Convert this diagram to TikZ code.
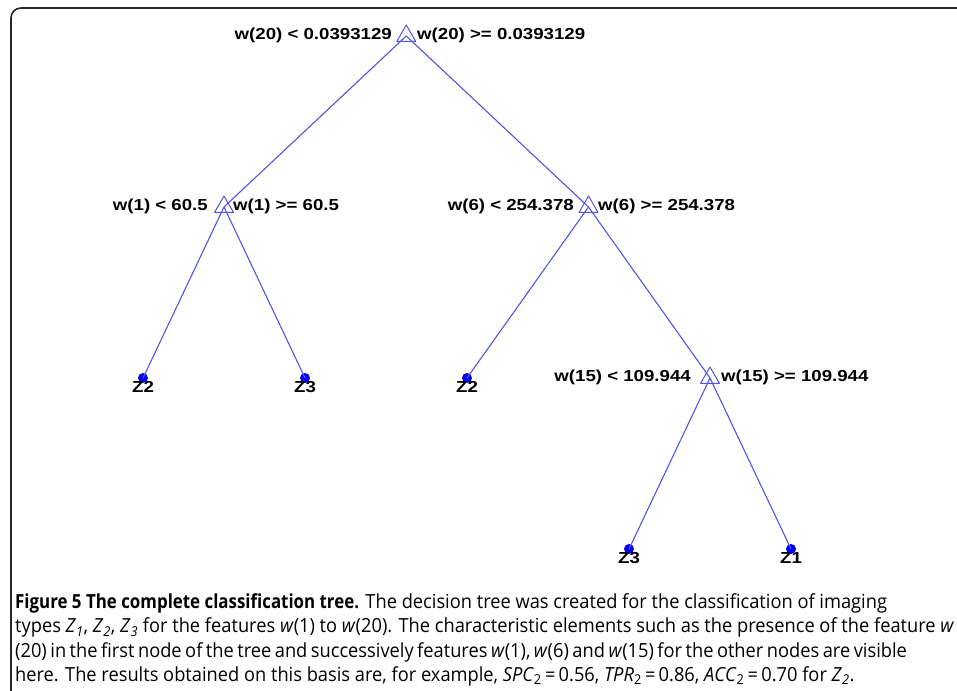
\documentclass[tikz,border=0pt]{standalone}
\usepackage{fontspec}
\setmainfont{Open Sans}[FakeStretch=0.94]
\newfontfamily\capbold{Open Sans}[FakeStretch=0.87]
\newfontfamily\treefont{Liberation Sans}[FakeStretch=1.17]
\usepackage{tikz}
\usetikzlibrary{shapes.geometric}
\definecolor{treeblue}{RGB}{84,84,228}
\definecolor{leafblue}{RGB}{0,0,250}
\definecolor{framegray}{RGB}{40,40,40}
\tikzset{
  split/.style={regular polygon,regular polygon sides=3,draw=treeblue,line width=1bp,minimum size=22bp,inner sep=0pt},
  leaf/.style={circle,fill=leafblue,minimum size=10bp,inner sep=0pt},
  treeline/.style={treeblue,line width=1.1bp},
  rule/.style={font=\treefont\bfseries\fontsize{16}{18}\selectfont,inner sep=0pt},
  leaflab/.style={font=\treefont\bfseries\fontsize{16}{18}\selectfont,inner sep=0pt,anchor=north},
  capline/.style={font=\fontsize{19.5}{24}\selectfont,inner sep=0pt,anchor=base west},
}
\begin{document}
\begin{tikzpicture}[line join=bevel,]
\useasboundingbox (0bp,0bp) rectangle (957bp,691bp);
%%
\draw [framegray,line width=1.6bp] (11bp,0bp) -- (11bp,673bp) arc[start angle=180,end angle=90,radius=10bp] -- (957bp,683bp);
%%
\node (node_0) at (406.25bp,655bp) [split] {};
  \node (node_1) at (224bp,484bp) [split] {};
  \node (node_2) at (588.5bp,484bp) [split] {};
  \node (node_3) at (143bp,313bp) [leaf] {};
  \node (node_4) at (305bp,313bp) [leaf] {};
  \node (node_5) at (467bp,313bp) [leaf] {};
  \node (node_6) at (710bp,313bp) [split] {};
  \node (node_7) at (629bp,142bp) [leaf] {};
  \node (node_8) at (791bp,142bp) [leaf] {};
  \draw [treeline] (node_0.center) -- (node_1.center);
  \draw [treeline] (node_0.center) -- (node_2.center);
  \draw [treeline] (node_1.center) -- (node_3.center);
  \draw [treeline] (node_1.center) -- (node_4.center);
  \draw [treeline] (node_2.center) -- (node_5.center);
  \draw [treeline] (node_2.center) -- (node_6.center);
  \draw [treeline] (node_6.center) -- (node_7.center);
  \draw [treeline] (node_6.center) -- (node_8.center);
%
\node (rule_0a) at (392bp,656bp) [rule,anchor=east] {w(20) < 0.0393129};
  \node (rule_0b) at (417bp,656bp) [rule,anchor=west] {w(20) >= 0.0393129};
  \node (rule_1a) at (208bp,485bp) [rule,anchor=east] {w(1) < 60.5};
  \node (rule_1b) at (233bp,485bp) [rule,anchor=west] {w(1) >= 60.5};
  \node (rule_2a) at (574bp,485bp) [rule,anchor=east] {w(6) < 254.378};
  \node (rule_2b) at (598bp,485bp) [rule,anchor=west] {w(6) >= 254.378};
  \node (rule_6a) at (691bp,314bp) [rule,anchor=east] {w(15) < 109.944};
  \node (rule_6b) at (721bp,314bp) [rule,anchor=west] {w(15) >= 109.944};
  \node (lab_3) at ([yshift=-3bp]node_3.center) [leaflab] {Z2};
  \node (lab_4) at ([yshift=-3bp]node_4.center) [leaflab] {Z3};
  \node (lab_5) at ([yshift=-3bp]node_5.center) [leaflab] {Z2};
  \node (lab_7) at ([yshift=-3bp]node_7.center) [leaflab] {Z3};
  \node (lab_8) at ([yshift=-3bp]node_8.center) [leaflab] {Z1};
%
\node (cap_1) at (15bp,82bp) [capline] {{\capbold\bfseries Figure 5 The complete classification tree.} The decision tree was created for the classification of imaging};
  \node (cap_2) at (15bp,58bp) [capline] {types \textit{Z}\textsubscript{\textit{1}}, \textit{Z}\textsubscript{\textit{2}}, \textit{Z}\textsubscript{\textit{3}} for the features \textit{w}(1) to \textit{w}(20). The characteristic elements such as the presence of the feature \textit{w}};
  \node (cap_3) at (15bp,34bp) [capline] {\spaceskip=3.5bp plus 1bp (20) in the first node of the tree and successively features \textit{w}(1), \textit{w}(6) and \textit{w}(15) for the other nodes are visible};
  \node (cap_4) at (15bp,10bp) [capline] {here. The results obtained on this basis are, for example, \textit{SPC}\textsubscript{2}\,=\,0.56, \textit{TPR}\textsubscript{2}\,=\,0.86, \textit{ACC}\textsubscript{2}\,=\,0.70 for \textit{Z}\textsubscript{\textit{2}}.};
%
\end{tikzpicture}
\end{document}
